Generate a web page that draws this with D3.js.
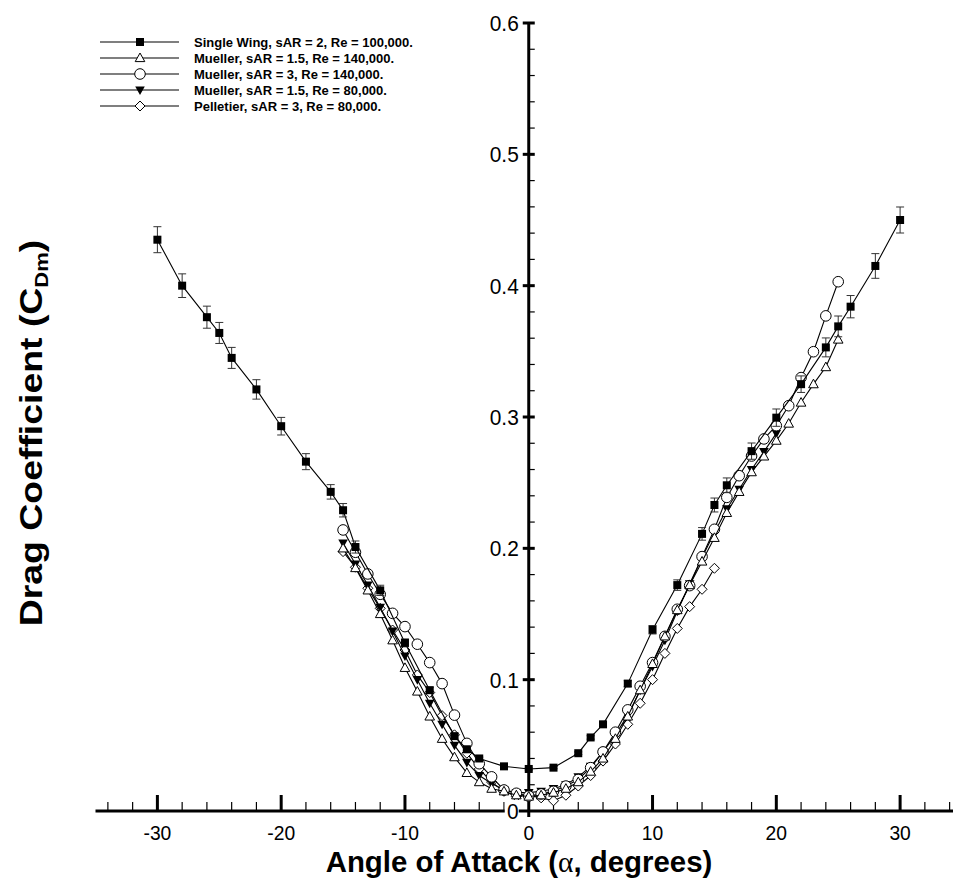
<!DOCTYPE html>
<html>
<head>
<meta charset="utf-8">
<script src="https://cdn.jsdelivr.net/npm/d3@7"></script>
<style>
  html, body { margin: 0; padding: 0; background: #fff; }
  svg { display: block; }
</style>
</head>
<body>
<svg id="chart" width="953" height="878"></svg>
<script>
// ---- Data: drag coefficient vs angle of attack ----
const singleAlpha = [-30,-28,-26,-25,-24,-22,-20,-18,-16,-15,-14,-12,-10,-8,-6,-5,-4,-2,0,2,4,5,6,8,10,12,14,15,16,18,20,22,24,25,26,28,30];
const singleCd    = [0.435,0.400,0.376,0.364,0.345,0.321,0.293,0.266,0.243,0.229,0.201,0.168,0.128,0.092,0.057,0.047,0.040,0.034,0.032,0.033,0.044,0.056,0.066,0.097,0.138,0.172,0.211,0.233,0.248,0.274,0.2995,0.325,0.353,0.369,0.384,0.415,0.450];
const singleErr   = [0.0099,0.0090,0.0084,0.0080,0.0080,0.0074,0.0067,0.0061,0.0055,0.0051,0.0046,0.0039,0.0030,0.0022,0.0015,0.0012,0.0010,0.0009,0.0008,0.0008,0.0010,0.0013,0.0016,0.0022,0.0032,0.0040,0.0048,0.0053,0.0056,0.0062,0.0066,0.0063,0.0072,0.0079,0.0085,0.0094,0.0099];

const muellerA15Re140Alpha = [-15,-14,-13,-12,-11,-10,-9,-8,-7,-6,-5,-4,-3,-2,-1,0,1,2,3,4,5,6,7,8,9,10,11,12,13,14,15,16,17,18,19,20,21,22,23,24,25];
const muellerA15Re140Cd    = [0.200,0.185,0.168,0.150,0.130,0.109,0.091,0.072,0.055,0.041,0.029,0.022,0.017,0.015,0.012,0.011,0.012,0.014,0.017,0.022,0.030,0.040,0.055,0.072,0.092,0.112,0.133,0.153,0.172,0.190,0.208,0.227,0.243,0.258,0.270,0.282,0.295,0.311,0.325,0.338,0.359];

const muellerA3Re140Alpha = [-15,-14,-13,-12,-11,-10,-9,-8,-7,-6,-5,-4,-3,-2,-1,0,1,2,3,4,5,6,7,8,9,10,11,12,13,14,15,16,17,18,19,20,21,22,23,24,25];
const muellerA3Re140Cd    = [0.214,0.197,0.1805,0.165,0.1505,0.1404,0.127,0.113,0.097,0.073,0.0515,0.036,0.026,0.016,0.0135,0.0114,0.013,0.015,0.019,0.024,0.033,0.045,0.060,0.077,0.095,0.113,0.133,0.1536,0.1716,0.1937,0.2145,0.2388,0.2553,0.2703,0.2833,0.2934,0.3086,0.330,0.3497,0.377,0.403];

const muellerA15Re80Alpha = [-15,-14,-13,-12,-11,-10,-9,-8,-7,-6,-5,-4,-3,-2,-1,0,1,2,3,4,5,6,7,8,9,10,11,12,13,14,15,16,17,18,19,20];
const muellerA15Re80Cd    = [0.204,0.188,0.172,0.155,0.137,0.118,0.100,0.082,0.066,0.050,0.037,0.027,0.021,0.016,0.014,0.014,0.015,0.017,0.020,0.026,0.034,0.045,0.058,0.073,0.092,0.110,0.130,0.152,0.173,0.193,0.212,0.230,0.245,0.260,0.2736,0.2875];

const pelletierAlpha = [-15,-14,-13,-12,-11,-10,-9,-8,-7,-6,-5,-4,-3,-2,-1,0,1,2,3,4,5,6,7,8,9,10,11,12,13,14,15];
const pelletierCd    = [0.1975,0.1856,0.1696,0.1543,0.1378,0.1226,0.1036,0.0902,0.0726,0.058,0.044,0.032,0.022,0.015,0.011,0.012,0.010,0.0078,0.012,0.019,0.027,0.038,0.051,0.066,0.082,0.100,0.120,0.139,0.1556,0.1688,0.1848];

const seriesNames = [
  "Single Wing, sAR = 2, Re = 100,000.",
  "Mueller, sAR = 1.5, Re = 140,000.",
  "Mueller, sAR = 3, Re = 140,000.",
  "Mueller, sAR = 1.5, Re = 80,000.",
  "Pelletier, sAR = 3, Re = 80,000."
];
const seriesSymbols = ["squareFilled", "triangleOpen", "circleOpen", "triangleDownFilled", "diamondOpen"];

const xTicks = [-30,-20,-10,0,10,20,30];
const yTicks = [0,0.1,0.2,0.3,0.4,0.5,0.6];

// ---- Scales ----
const svg = d3.select("#chart");
const x = d3.scaleLinear().domain([-35, 35]).range([95.5, 962]);
const y = d3.scaleLinear().domain([0, 0.6]).range([811, 23]);
const FONT = "'Liberation Sans', Arial, Helvetica, sans-serif";

// ---- Marker drawing ----
function drawMarker(g, type, cx, cy) {
  switch (type) {
    case "squareFilled":
      g.append("rect").attr("x", cx - 4).attr("y", cy - 4).attr("width", 8).attr("height", 8)
        .attr("fill", "#000");
      break;
    case "triangleOpen":
      g.append("path").attr("d", `M${cx},${cy-5}L${cx+4.8},${cy+3.6}L${cx-4.8},${cy+3.6}Z`)
        .attr("fill", "#fff").attr("stroke", "#000").attr("stroke-width", 1);
      break;
    case "circleOpen":
      g.append("circle").attr("cx", cx).attr("cy", cy).attr("r", 5.3)
        .attr("fill", "#fff").attr("stroke", "#000").attr("stroke-width", 1);
      break;
    case "triangleDownFilled":
      g.append("path").attr("d", `M${cx},${cy+5}L${cx+4.8},${cy-3.6}L${cx-4.8},${cy-3.6}Z`)
        .attr("fill", "#000");
      break;
    case "diamondOpen":
      g.append("path").attr("d", `M${cx},${cy-5}L${cx+5},${cy}L${cx},${cy+5}L${cx-5},${cy}Z`)
        .attr("fill", "#fff").attr("stroke", "#000").attr("stroke-width", 1);
      break;
  }
}

// ---- Axes ----
const axes = svg.append("g");
// x axis line (through Cd = 0)
axes.append("line").attr("x1", x(-35)).attr("x2", 953).attr("y1", y(0)).attr("y2", y(0))
  .attr("stroke", "#000").attr("stroke-width", 3);
// y axis line (through alpha = 0)
axes.append("line").attr("x1", x(0)).attr("x2", x(0)).attr("y1", y(0.6) - 1).attr("y2", y(0) + 6)
  .attr("stroke", "#000").attr("stroke-width", 3);

// x minor ticks every 2 degrees, major every 10
const xMinor = d3.range(-34, 35, 2).filter(v => v % 10 !== 0);
axes.selectAll(".xminor").data(xMinor).join("line")
  .attr("x1", d => x(d)).attr("x2", d => x(d)).attr("y1", y(0)).attr("y2", y(0) - 9)
  .attr("stroke", "#000").attr("stroke-width", 1.2);
axes.selectAll(".xmajor").data(xTicks.filter(d => d !== 0)).join("line")
  .attr("x1", d => x(d)).attr("x2", d => x(d)).attr("y1", y(0)).attr("y2", y(0) - 16)
  .attr("stroke", "#000").attr("stroke-width", 3);

// y minor ticks every 0.02, major every 0.1
const yMinor = d3.range(0.02, 0.6, 0.02).filter(v => Math.abs(v * 10 - Math.round(v * 10)) > 1e-6);
axes.selectAll(".yminor").data(yMinor).join("line")
  .attr("x1", x(0)).attr("x2", x(0) + 6).attr("y1", d => y(d)).attr("y2", d => y(d))
  .attr("stroke", "#000").attr("stroke-width", 1.2);
axes.selectAll(".ymajor").data(yTicks.filter(d => d > 0)).join("line")
  .attr("x1", x(0) - 6).attr("x2", x(0) + 6).attr("y1", d => y(d)).attr("y2", d => y(d))
  .attr("stroke", "#000").attr("stroke-width", 3);

// ---- Series ----
const series = [
  { alpha: pelletierAlpha, cd: pelletierCd, sym: seriesSymbols[4] },
  { alpha: muellerA15Re80Alpha, cd: muellerA15Re80Cd, sym: seriesSymbols[3] },
  { alpha: muellerA3Re140Alpha, cd: muellerA3Re140Cd, sym: seriesSymbols[2] },
  { alpha: muellerA15Re140Alpha, cd: muellerA15Re140Cd, sym: seriesSymbols[1] },
  { alpha: singleAlpha, cd: singleCd, sym: seriesSymbols[0], err: singleErr }
];
const line = d3.line().x(d => x(d[0])).y(d => y(d[1]));
const plot = svg.append("g");
series.forEach(s => {
  const pts = s.alpha.map((a, i) => [a, s.cd[i]]);
  const g = plot.append("g");
  g.append("path").attr("d", line(pts)).attr("fill", "none").attr("stroke", "#000").attr("stroke-width", 1.1);
  if (s.err) {
    pts.forEach((p, i) => {
      const e = s.err[i];
      const cx = x(p[0]);
      const eb = g.append("g").attr("stroke", "#333").attr("stroke-width", 1);
      eb.append("line").attr("x1", cx).attr("x2", cx).attr("y1", y(p[1] - e)).attr("y2", y(p[1] + e));
      eb.append("line").attr("x1", cx - 4).attr("x2", cx + 4).attr("y1", y(p[1] + e)).attr("y2", y(p[1] + e));
      eb.append("line").attr("x1", cx - 4).attr("x2", cx + 4).attr("y1", y(p[1] - e)).attr("y2", y(p[1] - e));
    });
  }
  pts.forEach(p => drawMarker(g, s.sym, x(p[0]), y(p[1])));
});

// ---- Tick labels ----
const labels = svg.append("g").attr("font-family", FONT).attr("fill", "#000");
labels.selectAll(".xl").data(xTicks).join("text")
  .attr("font-size", 21)
  .attr("transform", d => `translate(${x(d)},840) scale(0.92,1)`).attr("text-anchor", "middle")
  .text(d => d3.format("d")(d).replace("−", "-"));
yTicks.forEach(d => {
  if (d === 0) {
    labels.append("rect").attr("x", x(0) - 24).attr("y", y(0) - 11).attr("width", 14).attr("height", 22).attr("fill", "#fff");
  }
  labels.append("text").attr("font-size", 22)
    .attr("transform", `translate(${x(0) - 10},${y(d) + 8}) scale(0.95,1)`).attr("text-anchor", "end")
    .text(d === 0 ? "0" : d3.format(".1f")(d));
});

// ---- Axis titles ----
const xt = svg.append("text").attr("transform", "translate(519,872) scale(0.98,1)").attr("text-anchor", "middle")
  .attr("font-family", FONT).attr("font-weight", "bold").attr("font-size", 30);
xt.append("tspan").text("Angle of Attack (");
xt.append("tspan").attr("font-family", "'Liberation Serif', 'Times New Roman', serif").attr("font-weight", "normal").text("α");
xt.append("tspan").text(", degrees)");

const yt = svg.append("text").attr("transform", "translate(42,433) rotate(-90) scale(1.1,0.9)").attr("text-anchor", "middle")
  .attr("font-family", FONT).attr("font-weight", "bold").attr("font-size", 34);
yt.append("tspan").text("Drag Coefficient (C");
yt.append("tspan").attr("font-size", 20).attr("dy", 7).text("Dm");
yt.append("tspan").attr("dy", -7).text(")");

// ---- Legend ----
const legend = svg.append("g").attr("font-family", FONT).attr("font-weight", "bold").attr("font-size", 13);
seriesNames.forEach((name, i) => {
  const ly = 42 + i * 16;
  const row = legend.append("g");
  row.append("line").attr("x1", 100).attr("x2", 179).attr("y1", ly).attr("y2", ly)
    .attr("stroke", "#000").attr("stroke-width", 1.1);
  drawMarker(row, seriesSymbols[i], 140, ly);
  row.append("text").attr("x", 194).attr("y", ly + 4.5).text(name);
});
</script>
</body>
</html>
